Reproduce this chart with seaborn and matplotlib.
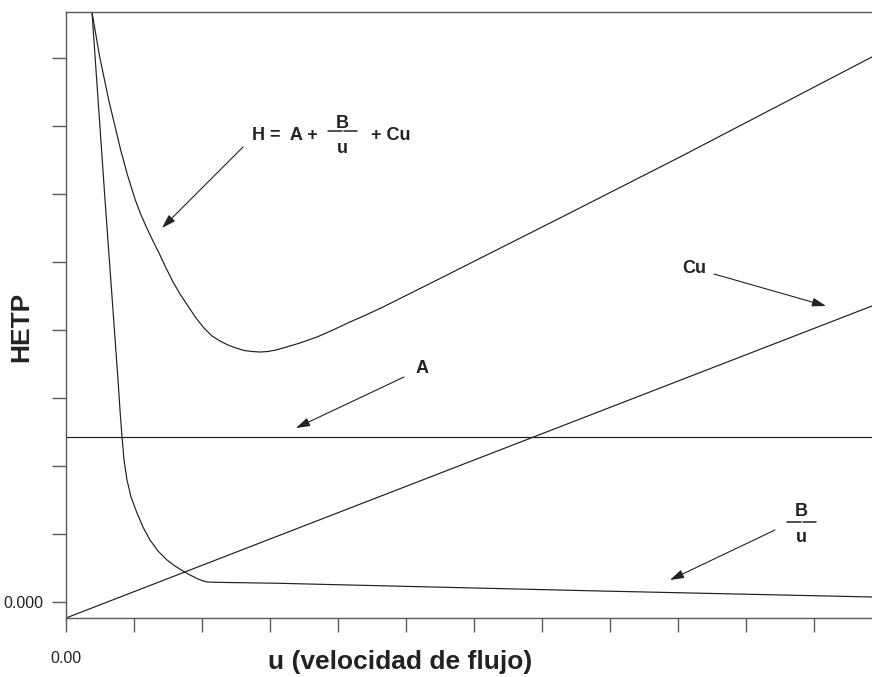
import matplotlib
matplotlib.use("Agg")
import matplotlib.pyplot as plt
from matplotlib.lines import Line2D
import seaborn as sns

# Flow velocity u (axis units) and plate-height terms
u_total = [0.382, 0.493, 0.628, 0.804, 0.904, 1.019, 1.097, 1.188, 1.279, 1.368,
           1.471, 1.574, 1.676, 1.794, 1.912, 2.029, 2.147, 2.265, 2.382, 2.500,
           2.618, 2.735, 2.853, 2.971, 3.088, 3.191, 3.441, 3.691, 3.926, 4.176,
           4.412, 4.662, 4.912, 5.162, 5.456, 7.265, 9.029, 11.853]
h_total = [8.676, 8.029, 7.382, 6.647, 6.279, 5.912, 5.706, 5.500, 5.309, 5.132,
           4.912, 4.706, 4.529, 4.353, 4.176, 4.029, 3.912, 3.838, 3.779, 3.735,
           3.699, 3.684, 3.676, 3.684, 3.706, 3.735, 3.809, 3.897, 4.000, 4.118,
           4.221, 4.338, 4.463, 4.588, 4.735, 5.647, 6.544, 8.015]

u_diff = [0.382, 0.574, 0.765, 0.794, 0.824, 0.853, 0.897, 0.956, 1.044, 1.132,
          1.235, 1.353, 1.485, 1.603, 1.721, 1.824, 1.926, 2.015, 2.088, 2.191,
          3.147, 4.176, 7.853, 11.853]
h_diff = [8.676, 5.912, 3.265, 2.824, 2.426, 2.088, 1.794, 1.544, 1.309, 1.103,
          0.912, 0.750, 0.618, 0.529, 0.456, 0.397, 0.346, 0.309, 0.294, 0.290,
          0.275, 0.250, 0.162, 0.074]

u_const = [0.0, 11.853]
h_const = [2.43, 2.43]

u_mass = [0.0, 11.853]
h_mass = [-0.235, 4.353]

x_ticks = list(range(12))
y_ticks = list(range(9))
x_tick_labels = ["0.00"] + [""] * 11
y_tick_labels = ["0.000"] + [""] * 8

W, H = 872, 677
sns.set_theme(style="white")
plt.rcParams["font.family"] = ["Liberation Sans", "DejaVu Sans"]

fig = plt.figure(figsize=(W / 100, H / 100), dpi=100)
ax = fig.add_axes([66 / W, 59 / H, (W - 66) / W, (618 - 12) / H])

ink = "#1e1e1e"
for xs, ys in [(u_total, h_total), (u_diff, h_diff), (u_const, h_const), (u_mass, h_mass)]:
    sns.lineplot(x=xs, y=ys, ax=ax, color=ink, linewidth=0.85,
                 estimator=None, sort=False)

ax.set_xlim(0, 11.853)
ax.set_ylim(-0.235, 8.676)

spine_col = "#5a5a5a"
for side in ["left", "bottom", "top"]:
    ax.spines[side].set_visible(True)
    ax.spines[side].set_color(spine_col)
    ax.spines[side].set_linewidth(1.0)
ax.spines["right"].set_visible(False)

ax.set_xticks(x_ticks)
ax.set_xticklabels(x_tick_labels)
ax.set_yticks(y_ticks)
ax.set_yticklabels(y_tick_labels)
ax.tick_params(axis="both", direction="out", length=10, width=1.0,
               color=spine_col, labelcolor="#222222", labelsize=11.5,
               bottom=True, left=True)
ax.tick_params(axis="x", pad=14)
ax.tick_params(axis="y", pad=6)
ax.grid(False)


def fp(x, y):
    """Top-left pixel position to figure-pixel coordinates."""
    return (x, H - y)


bold = dict(fontsize=13, fontweight="bold", color="#222222",
            family=["Liberation Sans", "DejaVu Sans"])
label_font = dict(fontsize=19, fontweight="bold", color="#222222",
                  family=["Liberation Sans", "DejaVu Sans"])

fig.text(21 / W, 1 - 327 / H, "HETP", rotation=90, ha="center", va="center", **label_font)
fig.text(400 / W, 1 - 662 / H, "u (velocidad de flujo)", ha="center", va="center", **label_font)


def put(x, y, s, ha="left"):
    fig.text(x / W, 1 - y / H, s, ha=ha, va="baseline", **bold)


def bar(x0, x1, y, gap=1.0):
    xm = (x0 + x1) / 2
    for a, b in [(x0, xm - gap), (xm + gap, x1)]:
        fig.add_artist(Line2D([a / W, b / W], [1 - y / H, 1 - y / H],
                              transform=fig.transFigure, color="#222222", lw=1.1))


def arrow(x0, y0, x1, y1):
    ax.annotate("", xy=fp(x1, y1), xytext=fp(x0, y0),
                xycoords="figure pixels", textcoords="figure pixels",
                arrowprops=dict(arrowstyle="-|>,head_length=0.7,head_width=0.22",
                                color="#222222", lw=0.8, shrinkA=0, shrinkB=0))


# van Deemter expression
put(252, 140, "H =  A +")
put(342.5, 128, "B", ha="center")
bar(328, 357, 131)
put(342.5, 153, "u", ha="center")
put(371, 140, "+ Cu")
arrow(243, 147, 162, 228)

# A term
put(422, 373, "A", ha="center")
arrow(404, 377, 296, 428)

# Cu term
put(682, 273, "Cu")
arrow(714, 274, 826, 306)

# B/u term
put(801, 516, "B", ha="center")
bar(787, 816, 522)
put(801, 542, "u", ha="center")
arrow(775, 530, 670, 580)

fig.savefig("out.png", dpi=100)
